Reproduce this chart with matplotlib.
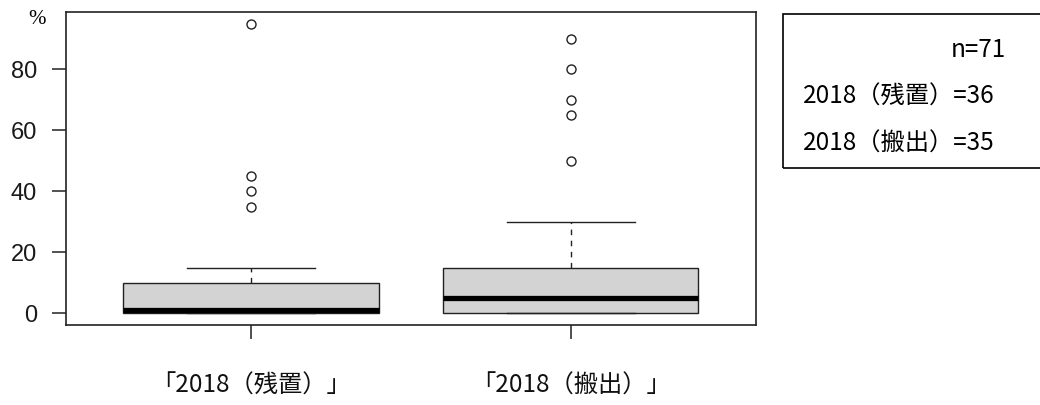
import matplotlib
matplotlib.use("Agg")
import matplotlib.pyplot as plt
from matplotlib.patches import Rectangle

plt.rcParams['font.family'] = ['Noto Sans CJK JP', 'DejaVu Sans']

# ---- data ----
categories = ["「2018（残置）」", "「2018（搬出）」"]
whisker_low = [0, 0]
q1 = [0, 0]
medians = [1, 5]
q3 = [10, 15]
whisker_high = [15, 30]
outliers_zanchi = [35, 40, 45, 95]
outliers_hanshutsu = [50, 65, 70, 80, 90]
outliers = [outliers_zanchi, outliers_hanshutsu]
y_ticks = [0, 20, 40, 60, 80]
legend_lines = ["n=71", "2018（残置）=36", "2018（搬出）=35"]

stats = []
for i, name in enumerate(categories):
    stats.append(dict(label=name, whislo=whisker_low[i], q1=q1[i], med=medians[i],
                      q3=q3[i], whishi=whisker_high[i], fliers=outliers[i]))

W, H = 1040, 405
fig = plt.figure(figsize=(W / 100, H / 100), dpi=100)
ax = fig.add_axes([66 / W, 1 - 325 / H, (756 - 66) / W, (325 - 12) / H])

ax.bxp(stats, positions=[1, 2], widths=0.8, patch_artist=True,
       boxprops=dict(facecolor='#D3D3D3', edgecolor='#222222', linewidth=1.0),
       medianprops=dict(color='black', linewidth=3.8, solid_capstyle='butt'),
       whiskerprops=dict(color='#222222', linewidth=1.0, linestyle=(0, (4, 4))),
       capprops=dict(color='#222222', linewidth=1.0),
       capwidths=0.4,
       flierprops=dict(marker='o', markersize=6.5, markerfacecolor='none',
                       markeredgecolor='#222222', markeredgewidth=1.0))

ax.set_xlim(0.42, 2.58)
ax.set_ylim(-3.8, 98.8)
for s in ax.spines.values():
    s.set_linewidth(1.2)
    s.set_color('#222222')

ax.set_yticks(y_ticks)
ax.set_yticklabels([str(v) for v in y_ticks], fontfamily='Liberation Sans', fontsize=17, color='#1a1a1a')
ax.tick_params(axis='y', length=10, width=1.1, pad=11, color='#222222')
ax.set_xticks([1, 2])
ax.set_xticklabels(categories, fontsize=17.5, color='#111111')
ax.tick_params(axis='x', length=10, width=1.1, pad=24, color='#222222')

fig.text(37 / W, 1 - 19 / H, "%", fontsize=15, family='Liberation Serif', ha='center', va='center')

# legend-like box (extends beyond right edge)
rect = Rectangle((783 / W, 1 - 168 / H), (1060 - 783) / W, (168 - 14) / H,
                 transform=fig.transFigure, fill=False, edgecolor='black', linewidth=1.2,
                 clip_on=False)
fig.patches.append(rect)
fig.text(1006 / W, 1 - 50 / H, legend_lines[0], fontsize=17.5, ha='right', va='center')
fig.text(803 / W, 1 - 97 / H, legend_lines[1], fontsize=17.5, ha='left', va='center')
fig.text(803 / W, 1 - 144 / H, legend_lines[2], fontsize=17.5, ha='left', va='center')

fig.savefig("out.png", dpi=100)
